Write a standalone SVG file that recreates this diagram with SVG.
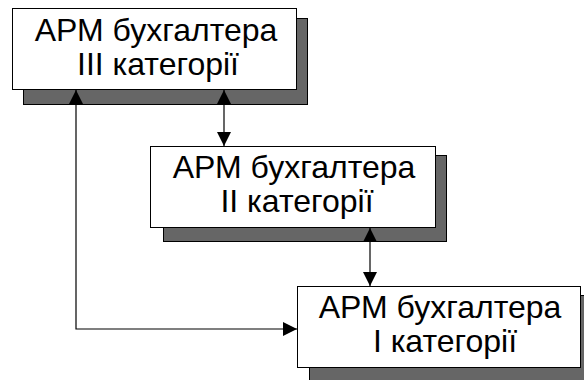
<svg xmlns="http://www.w3.org/2000/svg" width="584" height="380" viewBox="0 0 584 380">
<defs>
<style>
.sh{fill:#666;stroke:#000;stroke-width:1}
.bx{fill:#fff;stroke:#000;stroke-width:1}
.t{font-family:"Liberation Sans",Arial,sans-serif;font-size:32px;fill:#000;text-anchor:middle}
.c{fill:none;stroke:#000;stroke-width:1.2}
</style>
<marker id="ah" viewBox="0 0 14 14" refX="14" refY="7" markerWidth="14" markerHeight="14" markerUnits="userSpaceOnUse" orient="auto-start-reverse">
<path d="M0,0 L14,7 L0,14 Z" fill="#000"/>
</marker>
</defs>
<rect width="584" height="380" fill="#fff"/>
<g id="node3">
<rect class="sh" x="23.5" y="18.5" width="284" height="86"/>
<rect class="bx" x="12.5" y="8.5" width="284" height="81"/>
<text class="t" x="156" y="41">АРМ бухгалтера</text>
<text class="t" x="158" y="75">III категорії</text>
</g>
<g id="node2">
<rect class="sh" x="163.5" y="155.5" width="283" height="86"/>
<rect class="bx" x="150.5" y="146.5" width="285" height="81"/>
<text class="t" x="294" y="178">АРМ бухгалтера</text>
<text class="t" x="297" y="212">II категорії</text>
</g>
<g id="node1">
<rect class="sh" x="309.5" y="295.5" width="290" height="90"/>
<rect class="bx" x="297.5" y="286.5" width="283" height="81"/>
<text class="t" x="440" y="318">АРМ бухгалтера</text>
<text class="t" x="445" y="352">I категорії</text>
</g>
<g id="connectors">
<line class="c" x1="224" y1="90" x2="224" y2="146" marker-start="url(#ah)" marker-end="url(#ah)"/>
<line class="c" x1="370" y1="228" x2="370" y2="286" marker-start="url(#ah)" marker-end="url(#ah)"/>
<polyline class="c" points="297,329 76,329 76,90" marker-start="url(#ah)" marker-end="url(#ah)"/>
</g>
</svg>
